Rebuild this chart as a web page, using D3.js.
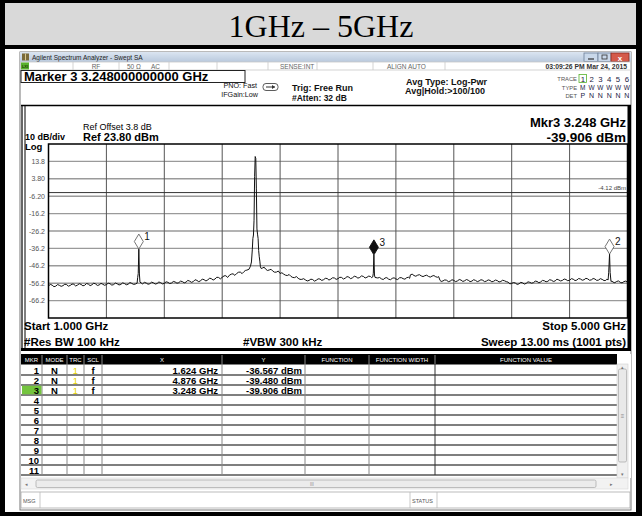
<!DOCTYPE html>
<html>
<head>
<meta charset="utf-8">
<script src="https://cdn.jsdelivr.net/npm/d3@7"></script>
<style>
	body { margin: 0; background: #fff; }
	svg { display: block; font-family: "Liberation Sans", Arial, sans-serif; }
</style>
</head>
<body>
<script>
var titleText = "1GHz \u2013 5GHz";

var yTickValues = [13.8, 3.8, -6.2, -16.2, -26.2, -36.2, -46.2, -56.2, -66.2];
var yTickLabels = ["13.8", "3.80", "-6.20", "-16.2", "-26.2", "-36.2", "-46.2", "-56.2", "-66.2"];
var xGridGHz = [1.4, 1.8, 2.2, 2.6, 3.0, 3.4, 3.8, 4.2, 4.6];

var refLevel = 23.8;
var displayLine = -4.12;

var markerNums = [1, 2, 3];
var markerGHz = [1.624, 4.876, 3.248];
var markerDbm = [-36.567, -39.480, -39.906];
var markerX = ["1.624 GHz", "4.876 GHz", "3.248 GHz"];
var markerY = ["-36.567 dBm", "-39.480 dBm", "-39.906 dBm"];
var activeMarker = 3;

var traceNums = ["1", "2", "3", "4", "5", "6"];
var traceTypes = ["M", "W", "W", "W", "W", "W"];
var traceDets = ["P", "N", "N", "N", "N", "N"];

// trace 1 : [GHz, dBm]
var trace = [
	[1.000,-57.8],[1.025,-57.3],[1.050,-57.9],[1.075,-57.4],[1.100,-57.6],[1.125,-57.0],[1.150,-57.5],[1.175,-56.8],
	[1.200,-57.3],[1.225,-56.9],[1.250,-57.4],[1.275,-56.7],[1.300,-57.1],[1.325,-56.6],[1.350,-57.2],[1.375,-56.8],
	[1.400,-57.0],[1.425,-56.5],[1.450,-57.0],[1.475,-56.6],[1.500,-56.9],[1.525,-56.4],[1.550,-56.8],[1.575,-56.3],
	[1.600,-56.7],[1.612,-56.2],[1.616,-53.0],[1.620,-50.6],[1.624,-36.6],[1.628,-50.9],[1.632,-55.6],[1.650,-56.6],
	[1.675,-56.1],[1.700,-56.5],[1.725,-56.0],[1.750,-56.4],[1.775,-55.9],[1.800,-56.3],[1.825,-55.7],[1.850,-56.1],
	[1.875,-55.5],[1.900,-55.9],[1.925,-55.3],[1.950,-55.6],[1.975,-55.0],[2.000,-55.3],[2.025,-54.6],[2.050,-54.9],
	[2.075,-54.2],[2.100,-54.4],[2.125,-53.6],[2.150,-53.8],[2.175,-52.9],[2.200,-52.8],[2.225,-51.9],[2.250,-51.6],
	[2.275,-50.8],[2.300,-50.6],[2.325,-49.8],[2.350,-49.6],[2.370,-48.7],[2.385,-48.2],[2.395,-46.5],[2.402,-44.0],
	[2.408,-37.0],[2.412,-30.5],[2.416,-28.5],[2.420,-20.0],[2.424,5.0],[2.428,16.6],[2.432,15.5],[2.436,-2.0],
	[2.440,-25.0],[2.444,-28.0],[2.448,-30.5],[2.452,-37.5],[2.456,-41.0],[2.460,-43.5],[2.464,-46.8],[2.470,-47.8],
	[2.480,-47.4],[2.500,-48.1],[2.525,-48.6],[2.550,-49.3],[2.575,-49.8],[2.600,-50.6],[2.625,-51.0],[2.650,-51.8],
	[2.675,-52.3],[2.700,-53.0],[2.725,-53.4],[2.750,-54.0],[2.775,-54.3],[2.800,-54.6],[2.825,-54.1],[2.850,-54.5],
	[2.875,-53.8],[2.900,-54.2],[2.925,-53.5],[2.950,-53.9],[2.975,-53.2],[3.000,-53.6],[3.025,-52.9],[3.050,-53.3],
	[3.075,-52.7],[3.100,-53.1],[3.125,-52.5],[3.150,-52.9],[3.175,-52.3],[3.200,-52.8],[3.225,-52.4],[3.240,-52.6],
	[3.244,-50.5],[3.248,-39.9],[3.252,-51.5],[3.256,-52.9],[3.275,-53.2],[3.300,-53.7],[3.325,-53.2],[3.350,-53.9],
	[3.375,-53.4],[3.400,-53.8],[3.425,-53.1],[3.450,-53.6],[3.475,-53.0],[3.495,-53.4],[3.500,-51.4],[3.525,-51.8],
	[3.550,-51.6],[3.575,-52.0],[3.600,-51.9],[3.625,-52.3],[3.650,-52.1],[3.675,-52.5],[3.695,-52.4],[3.705,-54.6],
	[3.725,-54.9],[3.750,-54.5],[3.775,-55.0],[3.800,-54.6],[3.825,-54.9],[3.850,-54.4],[3.875,-54.8],[3.900,-54.5],
	[3.925,-55.0],[3.950,-54.6],[3.975,-54.9],[4.000,-54.5],[4.025,-55.0],[4.050,-54.6],[4.075,-55.1],[4.100,-54.7],
	[4.125,-55.2],[4.150,-54.8],[4.175,-55.6],[4.200,-56.3],[4.225,-56.1],[4.250,-56.6],[4.275,-56.0],[4.300,-56.3],
	[4.325,-55.7],[4.350,-55.9],[4.375,-55.2],[4.400,-55.5],[4.425,-54.8],[4.450,-55.1],[4.475,-54.5],[4.500,-54.9],
	[4.525,-54.3],[4.550,-54.6],[4.575,-54.1],[4.600,-54.5],[4.625,-53.9],[4.650,-54.4],[4.675,-53.8],[4.700,-54.2],
	[4.725,-53.7],[4.750,-54.3],[4.775,-53.8],[4.800,-54.4],[4.825,-54.0],[4.850,-54.6],[4.866,-54.3],[4.870,-50.2],
	[4.876,-39.5],[4.880,-50.0],[4.886,-55.2],[4.900,-55.6],[4.925,-55.2],[4.950,-55.7],[4.975,-55.3],[5.000,-55.6]
];

// in-between sweep points of the noise floor
var traceFine = [
	[1.0125,-56.9],[1.0375,-58.2],[1.0625,-57.0],[1.0875,-58.0],[1.1125,-56.8],[1.1375,-57.9],[1.1625,-56.7],[1.1875,-57.8],
	[1.2125,-56.5],[1.2375,-57.7],[1.2625,-56.4],[1.2875,-57.6],[1.3125,-56.2],[1.3375,-57.5],[1.3625,-56.3],[1.3875,-57.4],
	[1.4125,-56.2],[1.4375,-57.3],[1.4625,-56.1],[1.4875,-57.2],[1.5125,-56.0],[1.5375,-57.1],[1.5625,-55.8],[1.5875,-56.9],
	[1.6625,-55.7],[1.6875,-56.8],[1.7125,-55.6],[1.7375,-56.7],[1.7625,-55.5],[1.7875,-56.6],[1.8125,-55.4],[1.8375,-56.4],
	[1.8625,-55.2],[1.8875,-56.2],[1.9125,-55.0],[1.9375,-56.0],[1.9625,-54.6],[1.9875,-55.7],[2.0125,-54.2],[2.0375,-55.3],
	[2.0625,-53.8],[2.0875,-54.9],[2.1125,-53.3],[2.1375,-54.4],[2.1625,-52.8],[2.1875,-53.7],[2.2125,-52.0],[2.2375,-52.9],
	[2.2625,-51.0],[2.2875,-51.7],[2.3125,-49.9],[2.3375,-50.7],[2.3600,-48.9],
	[2.4900,-47.0],[2.5125,-48.9],[2.5375,-48.2],[2.5625,-49.9],[2.5875,-49.2],[2.6125,-50.2],[2.6375,-51.6],[2.6625,-51.2],
	[2.6875,-52.9],[2.7125,-52.4],[2.7375,-54.0],[2.7625,-53.6],[2.7875,-54.9],[2.8125,-53.9],[2.8375,-55.0],[2.8625,-53.7],
	[2.8875,-54.6],[2.9125,-53.4],[2.9375,-54.4],[2.9625,-53.1],[2.9875,-54.0],[3.0125,-52.8],[3.0375,-53.8],[3.0625,-52.4],
	[3.0875,-53.6],[3.1125,-52.2],[3.1375,-53.3],[3.1625,-52.0],[3.1875,-53.2],[3.2125,-52.1],[3.2325,-53.0],
	[3.2875,-52.9],[3.3125,-54.1],[3.3375,-53.0],[3.3625,-54.2],[3.3875,-53.1],[3.4125,-54.1],[3.4375,-53.0],[3.4625,-53.9],
	[3.4875,-52.8],[3.5125,-51.0],[3.5375,-52.2],[3.5625,-51.3],[3.5875,-52.4],[3.6125,-51.6],[3.6375,-52.7],[3.6625,-51.8],
	[3.6875,-52.8],[3.7125,-55.2],[3.7375,-54.3],[3.7625,-55.3],[3.7875,-54.2],[3.8125,-55.3],[3.8375,-54.1],[3.8625,-55.2],
	[3.8875,-54.1],[3.9125,-55.3],[3.9375,-54.2],[3.9625,-55.3],[3.9875,-54.2],[4.0125,-55.3],[4.0375,-54.3],[4.0625,-55.4],
	[4.0875,-54.4],[4.1125,-55.5],[4.1375,-54.5],[4.1625,-55.3],[4.1875,-56.6],[4.2125,-55.8],[4.2375,-56.9],[4.2625,-55.7],
	[4.2875,-56.7],[4.3125,-55.4],[4.3375,-56.2],[4.3625,-55.0],[4.3875,-55.9],[4.4125,-54.6],[4.4375,-55.4],[4.4625,-54.2],
	[4.4875,-55.2],[4.5125,-53.9],[4.5375,-54.9],[4.5625,-53.8],[4.5875,-54.8],[4.6125,-53.6],[4.6375,-54.7],[4.6625,-53.5],
	[4.6875,-54.5],[4.7125,-53.4],[4.7375,-54.5],[4.7625,-53.5],[4.7875,-54.6],[4.8125,-53.6],[4.8375,-54.7],[4.8575,-53.9],
	[4.8925,-55.0],[4.9125,-55.9],[4.9375,-54.9],[4.9625,-56.0],[4.9875,-55.0]
];

var tableCols = [
	{ name: "MKR", x0: 21, x1: 42 },
	{ name: "MODE", x0: 42, x1: 67 },
	{ name: "TRC", x0: 67, x1: 84 },
	{ name: "SCL", x0: 84, x1: 102 },
	{ name: "X", x0: 102, x1: 222 },
	{ name: "Y", x0: 222, x1: 305 },
	{ name: "FUNCTION", x0: 305, x1: 369 },
	{ name: "FUNCTION WIDTH", x0: 369, x1: 435 },
	{ name: "FUNCTION VALUE", x0: 435, x1: 617 }
];
var tableRows = [1, 2, 3, 4, 5, 6, 7, 8, 9, 10, 11];

// ---- drawing ----
var W = 642, H = 519;

var svg = d3.select("body").append("svg").attr("width", W).attr("height", H);

var defs = svg.append("defs");
var grad = defs.append("linearGradient").attr("id", "tbar").attr("x1", 0).attr("y1", 0).attr("x2", 0).attr("y2", 1);
grad.append("stop").attr("offset", "0%").attr("stop-color", "#dbe5f1");
grad.append("stop").attr("offset", "100%").attr("stop-color", "#b9c9dd");

function txt(g, x, y, s, o) {
	o = o || {};
	return g.append("text")
		.attr("x", x).attr("y", y)
		.attr("font-size", o.size || 8)
		.attr("font-weight", o.bold ? "bold" : "normal")
		.attr("text-anchor", o.anchor || "start")
		.attr("font-family", o.family || null)
		.attr("fill", o.fill || "#000")
		.text(s);
}

function rect(g, x, y, w, h, fill, stroke, sw) {
	return g.append("rect").attr("x", x).attr("y", y).attr("width", w).attr("height", h)
		.attr("fill", fill || "none").attr("stroke", stroke || "none").attr("stroke-width", sw || 1);
}

function line(g, x1, y1, x2, y2, stroke, sw) {
	return g.append("line").attr("x1", x1).attr("y1", y1).attr("x2", x2).attr("y2", y2)
		.attr("stroke", stroke).attr("stroke-width", sw || 1);
}

// outer table frame + title cell
rect(svg, 0, 0, W, H, "#fff");
rect(svg, 5, 3, 631, 42, "#d9d9d9");
rect(svg, 0, 0, W, 3, "#000");
rect(svg, 0, 45, W, 4, "#000");
rect(svg, 0, 0, 5, 516, "#000");
rect(svg, 636, 0, 6, 516, "#000");
rect(svg, 0, 512, W, 4, "#000");
txt(svg, 321, 37, titleText, { size: 32, anchor: "middle", family: "'Liberation Serif', 'Times New Roman', serif" });

// ---- analyzer window ----
var win = svg.append("g");
rect(win, 20, 52, 611, 458, "#fff", "#777", 1);

// title bar
rect(win, 20, 52, 611, 10, "url(#tbar)");
rect(win, 22, 53.5, 7, 7, "#7a6a3a");
line(win, 25.5, 53.5, 25.5, 60.5, "#d8c890", 1);
txt(win, 32, 60, "Agilent Spectrum Analyzer - Swept SA", { size: 6.5, fill: "#222" });
rect(win, 584, 53, 14, 8.5, "#c9d8ea", "#6d7f98", 0.8);
line(win, 588, 59, 594, 59, "#333", 1.2);
rect(win, 598, 53, 13, 8.5, "#c9d8ea", "#6d7f98", 0.8);
rect(win, 602, 55, 5, 4, "none", "#333", 0.8);
rect(win, 611, 53, 18, 8.5, "#d45a4a", "#8a2a20", 0.8);
txt(win, 620, 60.5, "x", { size: 8, bold: true, anchor: "middle", fill: "#fff" });

// status row
rect(win, 20.5, 62, 610, 8, "#fff", "#c8c8c8", 0.8);
rect(win, 21, 62.5, 8, 7, "#58b22c");
txt(win, 25, 68, "LXI", { size: 4, bold: true, anchor: "middle", fill: "#1a3a08" });
[73, 119, 169, 217, 268, 317, 373, 445].forEach(function(x) { line(win, x, 62, x, 70, "#c8c8c8", 0.8); });
txt(win, 96, 68.5, "RF", { size: 6.5, anchor: "middle", fill: "#666" });
txt(win, 127, 68.5, "50 \u03A9", { size: 6.5, fill: "#666" });
txt(win, 151, 68.5, "AC", { size: 6.5, fill: "#666" });
txt(win, 280, 68.5, "SENSE:INT", { size: 6.5, fill: "#666" });
txt(win, 387, 68.5, "ALIGN AUTO", { size: 6.5, fill: "#666" });
txt(win, 627, 68.5, "03:09:26 PM Mar 24, 2015", { size: 6.8, anchor: "end", fill: "#333", bold: true });

// marker entry
rect(win, 21, 70.5, 224, 12, "#fff", "#222", 1);
txt(win, 24, 81, "Marker 3 3.248000000000 GHz", { size: 13, bold: true });

txt(win, 257, 88, "PNO: Fast", { size: 7.2, anchor: "end", fill: "#111" });
txt(win, 258, 96.5, "IFGain:Low", { size: 7.2, anchor: "end", fill: "#111" });
rect(win, 263, 83.5, 15, 7, "#fff", "#333", 0.8).attr("rx", 3);
line(win, 266, 87, 275, 87, "#333", 1);
win.append("path").attr("d", "M272,85 L275,87 L272,89 Z").attr("fill", "#333");
txt(win, 292, 91, "Trig: Free Run", { size: 9, bold: true, fill: "#111" });
txt(win, 292, 100.5, "#Atten: 32 dB", { size: 8.5, bold: true, fill: "#111" });
txt(win, 406, 84.5, "Avg Type: Log-Pwr", { size: 9, bold: true, fill: "#111" });
txt(win, 405, 93.5, "Avg|Hold:>100/100", { size: 9, bold: true, fill: "#111" });

txt(win, 577, 81, "TRACE", { size: 5.8, anchor: "end", fill: "#555" });
txt(win, 577, 89.5, "TYPE", { size: 5.8, anchor: "end", fill: "#555" });
txt(win, 577, 98, "DET", { size: 5.8, anchor: "end", fill: "#555" });
rect(win, 579, 74.5, 7.5, 8, "none", "#58b22c", 0.8);
var trc = win.selectAll(".trc").data(traceNums).enter().append("g")
	.attr("transform", function(d, i) { return "translate(" + (582.8 + i * 8.8) + ",0)"; });
trc.append("text").attr("y", 81.5).attr("text-anchor", "middle").attr("font-size", 7.8).attr("fill", "#224")
	.text(function(d) { return d; });
trc.append("text").attr("y", 89.5).attr("text-anchor", "middle").attr("font-size", 6.5).attr("fill", "#224")
	.text(function(d, i) { return traceTypes[i]; });
trc.append("text").attr("y", 98).attr("text-anchor", "middle").attr("font-size", 7).attr("fill", "#224")
	.text(function(d, i) { return traceDets[i]; });

// ---- graph panel ----
var panel = svg.append("g");
line(panel, 21, 105.5, 631, 105.5, "#000", 1.5);
line(panel, 22, 105, 22, 350, "#000", 1.2);
line(panel, 25, 105, 25, 350, "#000", 1);
rect(panel, 627.5, 105, 3.5, 246, "#000");
rect(panel, 21, 348, 610, 3, "#000");

txt(panel, 83, 130, "Ref Offset 3.8 dB", { size: 9 });
txt(panel, 83, 141, "Ref 23.80 dBm", { size: 11, bold: true });
txt(panel, 25, 139.5, "10 dB/div", { size: 9, bold: true });
txt(panel, 25, 150, "Log", { size: 9.5, bold: true });
txt(panel, 626, 126.5, "Mkr3 3.248 GHz", { size: 13, bold: true, anchor: "end" });
txt(panel, 626, 141.5, "-39.906 dBm", { size: 13.5, bold: true, anchor: "end" });

var gx0 = 48.5, gx1 = 627.5, gy0 = 144, gy1 = 318;
var x = d3.scaleLinear().domain([1, 5]).range([gx0, gx1]);
var y = d3.scaleLinear().domain([refLevel - 100, refLevel]).range([gy1, gy0]);

var grid = panel.append("g");
grid.selectAll(".hgrid").data(yTickValues).enter().append("line")
	.attr("class", "hgrid")
	.attr("x1", gx0).attr("x2", gx1)
	.attr("y1", function(d) { return y(d); }).attr("y2", function(d) { return y(d); })
	.attr("stroke", "#9a9a9a").attr("stroke-width", 1.4);
grid.selectAll(".vgrid").data(xGridGHz).enter().append("line")
	.attr("class", "vgrid")
	.attr("x1", function(d) { return x(d); }).attr("x2", function(d) { return x(d); })
	.attr("y1", gy0).attr("y2", gy1)
	.attr("stroke", "#555").attr("stroke-width", 1);
grid.selectAll(".ylab").data(yTickValues).enter().append("text")
	.attr("class", "ylab")
	.attr("x", 45).attr("y", function(d) { return y(d) + 2.5; })
	.attr("text-anchor", "end").attr("font-size", 7).attr("fill", "#555")
	.text(function(d, i) { return yTickLabels[i]; });

// display line
line(grid, gx0, y(displayLine), gx1, y(displayLine), "#333", 1);
txt(grid, 626, y(displayLine) - 2.5, "-4.12 dBm", { size: 6, anchor: "end", fill: "#444" });

rect(grid, gx0, gy0, gx1 - gx0, gy1 - gy0, "none", "#000", 1.5);

// trace
var tracePts = trace.concat(traceFine).sort(function(a, b) { return a[0] - b[0]; });
var traceLine = d3.line()
	.x(function(d) { return x(d[0]); })
	.y(function(d) { return y(d[1]); });
panel.append("path").datum(tracePts)
	.attr("d", traceLine)
	.attr("fill", "none").attr("stroke", "#111").attr("stroke-width", 1)
	.attr("stroke-linejoin", "round");

// markers
var mk = panel.selectAll(".mk").data(markerNums).enter().append("g").attr("class", "mk")
	.attr("transform", function(d, i) { return "translate(" + x(markerGHz[i]) + "," + y(markerDbm[i]) + ")"; });
mk.append("path")
	.attr("d", "M0,0 L-4.5,-7.5 L0,-15 L4.5,-7.5 Z")
	.attr("fill", function(d) { return d == activeMarker ? "#111" : "#fff"; })
	.attr("stroke", function(d) { return d == activeMarker ? "#111" : "#666"; })
	.attr("stroke-width", 0.9);
mk.append("text")
	.attr("x", 5.5).attr("y", -9)
	.attr("font-size", 10).attr("fill", "#111")
	.text(function(d) { return d; });

txt(panel, 24, 330, "Start 1.000 GHz", { size: 11.5, bold: true });
txt(panel, 24, 346, "#Res BW 100 kHz", { size: 11.5, bold: true });
txt(panel, 243, 346, "#VBW 300 kHz", { size: 11.5, bold: true });
txt(panel, 626, 330, "Stop 5.000 GHz", { size: 11.5, bold: true, anchor: "end" });
txt(panel, 626, 346, "Sweep  13.00 ms (1001 pts)", { size: 11.5, bold: true, anchor: "end" });

// ---- marker table ----
var tbl = svg.append("g");
var rowTop = 365, rowH = 10;
rect(tbl, 21, 354, 610, 124, "#fff");
rect(tbl, 21, 354, 596, 10.5, "#000");
tbl.selectAll(".hsep").data(tableCols.slice(1)).enter().append("line")
	.attr("x1", function(d) { return d.x0; }).attr("x2", function(d) { return d.x0; })
	.attr("y1", 355).attr("y2", 364).attr("stroke", "#888").attr("stroke-width", 1);
tbl.selectAll(".hname").data(tableCols).enter().append("text")
	.attr("x", function(d) { return (d.x0 + d.x1) / 2; }).attr("y", 362)
	.attr("text-anchor", "middle").attr("font-size", 6).attr("fill", "#fff")
	.text(function(d) { return d.name; });

// row separators
tbl.selectAll(".rsep").data(tableRows).enter().append("line")
	.attr("x1", 21).attr("x2", 617)
	.attr("y1", function(d) { return rowTop + d * rowH; }).attr("y2", function(d) { return rowTop + d * rowH; })
	.attr("stroke", "#555").attr("stroke-width", 1.3);
tbl.selectAll(".csep").data(tableCols.slice(1)).enter().append("line")
	.attr("x1", function(d) { return d.x0; }).attr("x2", function(d) { return d.x0; })
	.attr("y1", 364).attr("y2", rowTop + tableRows.length * rowH)
	.attr("stroke", function(d) { return d.name == "FUNCTION VALUE" ? "#333" : "#888"; }).attr("stroke-width", 1);

// active marker highlight
rect(tbl, 22, rowTop + (activeMarker - 1) * rowH + 0.7, 19.5, rowH - 1.4, "#74c43e");

tbl.selectAll(".rnum").data(tableRows).enter().append("text")
	.attr("x", 39).attr("y", function(d) { return rowTop + d * rowH - 1.5; })
	.attr("text-anchor", "end").attr("font-size", 9.5).attr("font-weight", "bold")
	.text(function(d) { return d; });

var mrow = tbl.selectAll(".mrow").data(markerNums).enter().append("g")
	.attr("transform", function(d) { return "translate(0," + (rowTop + d * rowH - 1.5) + ")"; });
mrow.append("text").attr("x", 54.5).attr("text-anchor", "middle").attr("font-size", 9.5).attr("font-weight", "bold").text("N");
mrow.append("text").attr("x", 75.5).attr("text-anchor", "middle").attr("font-size", 9.5).attr("fill", "#e6d400").text("1");
mrow.append("text").attr("x", 93).attr("text-anchor", "middle").attr("font-size", 9.5).attr("font-weight", "bold").text("f");
mrow.append("text").attr("x", 218).attr("text-anchor", "end").attr("font-size", 9.5).attr("font-weight", "bold")
	.text(function(d, i) { return markerX[i]; });
mrow.append("text").attr("x", 302).attr("text-anchor", "end").attr("font-size", 9.5).attr("font-weight", "bold")
	.text(function(d, i) { return markerY[i]; });

// vertical scrollbar
rect(tbl, 617, 364, 11, 114, "#f0f0f0", "#d0d0d0", 0.6);
rect(tbl, 618.5, 369, 8, 93, "#e9e9e9", "#a8a8a8", 0.7).attr("rx", 1.5);
txt(tbl, 622.5, 369, "\u25B4", { size: 5, anchor: "middle", fill: "#777" });
txt(tbl, 622.5, 476, "\u25BE", { size: 5, anchor: "middle", fill: "#777" });
txt(tbl, 622.5, 418, "\u2261", { size: 6, anchor: "middle", fill: "#888" });

// horizontal scrollbar
rect(tbl, 21, 478, 607, 11, "#f2f2f2", "#d6d6d6", 0.6);
rect(tbl, 36, 480, 560, 7.5, "#ececec", "#a8a8a8", 0.7).attr("rx", 1.5);
txt(tbl, 26, 486, "\u25C2", { size: 5, anchor: "middle", fill: "#777" });
txt(tbl, 611, 486, "\u25B8", { size: 5, anchor: "middle", fill: "#777" });
txt(tbl, 312, 486, "III", { size: 4.5, anchor: "middle", fill: "#888" });

// message line
rect(tbl, 21, 492, 609, 16, "#fff", "#aaa", 0.8);
line(tbl, 40, 492, 40, 508, "#bbb", 0.8);
txt(tbl, 23, 503, "MSG", { size: 5.5, fill: "#555" });
line(tbl, 410, 492, 410, 508, "#bbb", 0.8);
line(tbl, 437, 492, 437, 508, "#bbb", 0.8);
txt(tbl, 412, 503, "STATUS", { size: 5.5, fill: "#555" });
</script>
</body>
</html>
